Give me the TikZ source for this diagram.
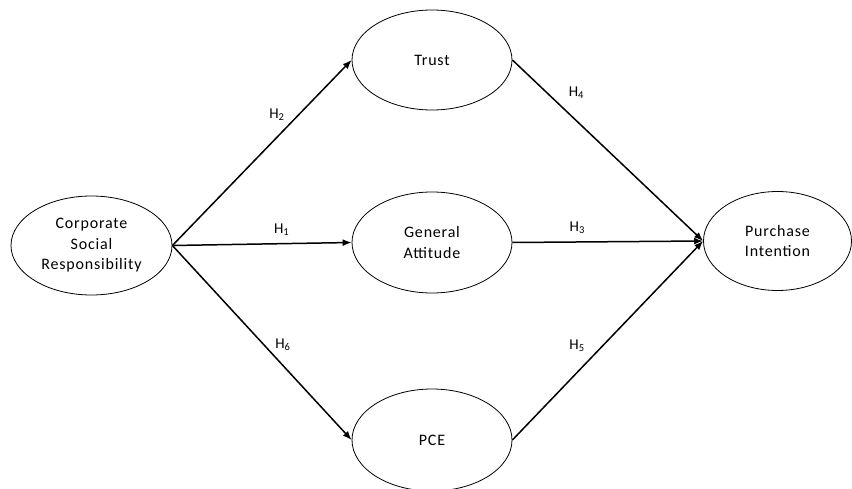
\documentclass[tikz,border=0pt]{standalone}
\usepackage{fontspec}
\setmainfont{Carlito}[LetterSpace=5]
\usepackage{tikz}
\usetikzlibrary{shapes.geometric,arrows.meta}

\begin{document}
\begin{tikzpicture}[x=1pt,y=-1pt,
    latent/.style={ellipse,draw,line width=0.8pt,inner sep=0pt,align=center,
      font=\fontsize{16}{20.5}\selectfont},
    hyp/.style={-{Latex[length=9pt,width=7pt]},line width=1.5pt},
    hlabel/.style={font=\fontsize{15}{18}\selectfont,inner sep=0pt}]
        \useasboundingbox (0,0) rectangle (852,489);
        \node[latent,minimum width=161pt,minimum height=99pt] (csr) at (91.5,245.5) {Corporate\\Social\\Responsibility};
        \node[latent,minimum width=160pt,minimum height=100pt] (trust) at (432,60) {Trust};
        \node[latent,minimum width=160pt,minimum height=101pt] (ga) at (432,242.5) {General\\Attitude};
        \node[latent,minimum width=160pt,minimum height=102pt] (pce) at (432,440) {PCE};
        \node[latent,minimum width=148pt,minimum height=99pt] (pi) at (777.5,241) {Purchase\\Intention};
        \path
          (csr.east) edge[hyp] node[hlabel,pos=0.646,xshift=-11.3pt,yshift=11.1pt] {H\textsubscript{2}} (trust.west)
          (csr.east) edge[hyp] node[hlabel,pos=0.61,yshift=13.7pt] {H\textsubscript{1}} (ga.west)
          (csr.east) edge[hyp] node[hlabel,pos=0.56,xshift=10.2pt,yshift=9.4pt] {H\textsubscript{6}} (pce.west)
          (trust.east) edge[hyp] node[hlabel,pos=0.262,xshift=14pt,yshift=14.7pt] {H\textsubscript{4}} (pi.west)
          (ga.east) edge[hyp] node[hlabel,pos=0.34,yshift=14pt] {H\textsubscript{3}} (pi.west)
          (pce.east) edge[hyp] node[hlabel,pos=0.41,xshift=-13.6pt,yshift=13.1pt] {H\textsubscript{5}} (pi.west);
      \end{tikzpicture}
\end{document}
